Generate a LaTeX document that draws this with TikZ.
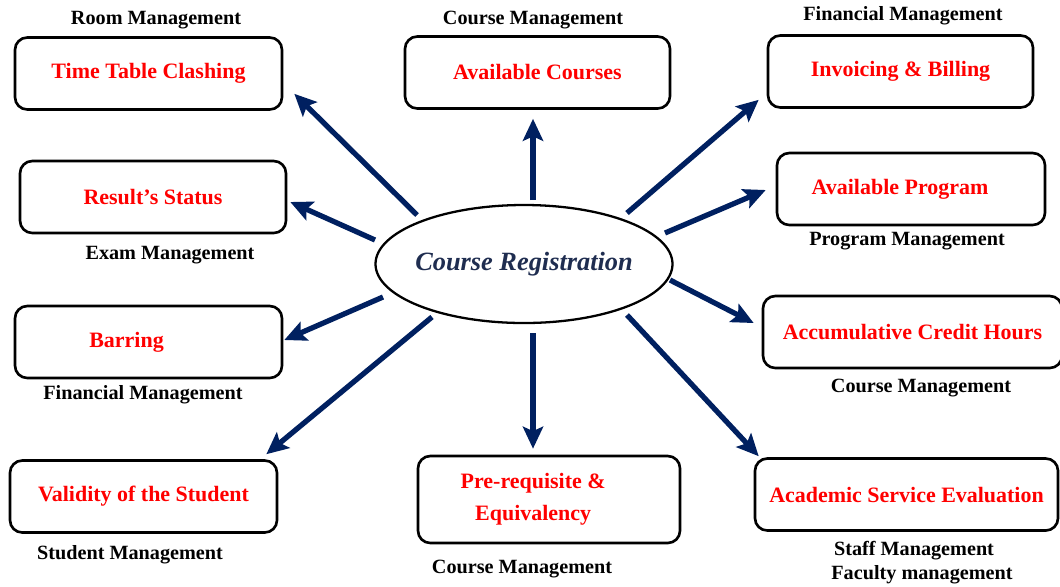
\documentclass[tikz,border=0pt]{standalone}
\usepackage{fontspec}
\setmainfont{Liberation Serif}
\usepackage{tikz}
\usetikzlibrary{arrows.meta}
\usetikzlibrary{shapes.geometric}

\newcommand{\pxu}{0.02cm}
\definecolor{arrowblue}{RGB}{0,32,96}
\definecolor{titleblue}{RGB}{31,45,80}

\begin{document}
\begin{tikzpicture}[x=0.02cm,y=-0.02cm]
  \tikzset{module/.style = {draw,line width=1.5pt,rounded corners=7pt,minimum height=72*\pxu,
      text=red,font=\fontsize{12.5}{16}\selectfont\bfseries,inner sep=1pt,align=center}}
  \tikzset{lab/.style = {font=\fontsize{11.5}{13}\selectfont\bfseries,inner sep=0pt}}
  \tikzset{arr/.style = {-{Stealth[length=12.5pt,width=11.5pt,inset=2.5pt]},line width=3pt,color=arrowblue}}
  \useasboundingbox (0,0) rectangle (1060,586);

	\node[ellipse,draw,line width=1.3pt,inner xsep=-3pt,inner ysep=0pt,minimum width=297*\pxu,minimum height=118*\pxu,
	  text=titleblue,font=\fontsize{15}{18}\selectfont\bfseries\itshape] (reg) at (524,264) {Course Registration};

	\node[module,minimum width=267*\pxu] (ttc) at (148.5,73.5) {Time Table Clashing};
	\node[module,minimum width=265*\pxu] (avc) at (537.5,72.5) {Available Courses};
	\node[module,minimum width=265*\pxu] (inv) at (900.5,71.5) {Invoicing \& Billing};
	\node[module,minimum width=266*\pxu] (res) at (153,197) {Result's Status};
	\node[module,minimum width=268*\pxu] (avp) at (911,189) {Available Program\hspace*{12.5pt}};
	\node[module,minimum width=267*\pxu] (bar) at (148.5,342) {Barring\hspace*{25pt}};
	\node[module,minimum width=299*\pxu] (ach) at (912.5,332) {Accumulative Credit Hours};
	\node[module,minimum width=267*\pxu] (val) at (143.5,496.5) {Validity of the Student};
	\node[module,minimum width=262*\pxu,minimum height=87*\pxu] (pre) at (549,499.5)
	  {Pre-requisite \&\hspace*{18pt}\\[2pt]Equivalency\hspace*{18pt}};
	\node[module,minimum width=303*\pxu] (ase) at (906.5,494.5) {Academic Service Evaluation};

	\node[lab] (ttcl) at (156,20) {Room Management};
	\node[lab] (avcl) at (533,20) {Course Management};
	\node[lab] (invl) at (903,16) {Financial Management};
	\node[lab] (resl) at (170,255) {Exam Management};
	\node[lab] (avpl) at (907,241) {Program Management};
	\node[lab] (barl) at (143,395) {Financial Management};
	\node[lab] (achl) at (921,388) {Course Management};
	\node[lab] (vall) at (130,555) {Student Management};
	\node[lab] (prel) at (522,569) {Course Management};
	\node[lab] (asel) at (914,551) {Staff Management};
	\node[lab] (ase2) at (922,575) {Faculty management};

       \foreach \from/\tgt/\anc/\off in {{(-107,-49)}/ttc/south east/{(11,-17)},
         {(9,-64)}/avc/south/{(-4.5,9)}, {(103,-51)}/inv/south west/{(-8,-9)},
         {(-149,-24)}/res/east/{(3,5)}, {(141,-31)}/avp/west/{(-10,1)},
         {(-141,33)}/bar/east/{(1,-2)}, {(146,16)}/ach/west/{(-8,-9)},
         {(-92,53)}/val/north east/{(-12,-5)}, {(9,69)}/pre/north/{(-16,-6)},
         {(103,51)}/ase/north west/{(5,-1)}}
    \draw[arr] ([shift=\from]reg.center) -- ([shift=\off]\tgt.\anc);
\end{tikzpicture}
\end{document}
